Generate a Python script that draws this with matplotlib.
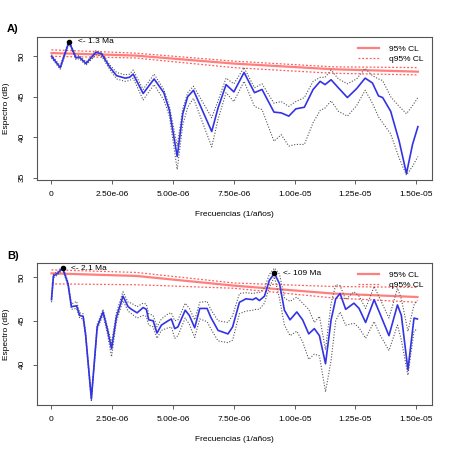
import numpy as np
import matplotlib
matplotlib.use("Agg")
import matplotlib.pyplot as plt

plt.rcParams['font.family'] = ['Liberation Sans', 'DejaVu Sans']

# ---------------- DATA (frequencies in units of 1e-6 1/años) ----------------
freq_a = [0.0, 0.36, 0.72, 1.01, 1.14, 1.42, 1.83, 2.06, 2.41, 2.68, 3.03, 3.21,
          3.36, 3.77, 4.22, 4.62, 4.85, 5.17, 5.4, 5.6, 5.84, 6.59, 6.85, 7.18,
          7.5, 7.92, 8.35, 8.66, 9.15, 9.45, 9.76, 10.05, 10.4, 10.76, 11.05,
          11.25, 11.5, 11.8, 12.17, 12.55, 12.9, 13.2, 13.45, 13.62, 13.95,
          14.3, 14.6, 14.85, 15.07]
spec_a = [50.0, 48.6, 51.8, 49.8, 49.9, 49.1, 50.5, 50.3, 48.6, 47.6, 47.3, 47.4,
          47.8, 45.4, 47.2, 45.5, 43.3, 37.6, 42.9, 45.0, 45.8, 40.7, 43.6, 46.5,
          45.6, 48.0, 45.5, 45.9, 43.1, 43.0, 42.6, 43.5, 43.7, 45.9, 46.9,
          46.5, 47.1, 46.1, 44.9, 46.0, 47.3, 46.7, 45.1, 44.9, 43.2,
          39.5, 35.5, 39.1, 41.3]
up_a = [50.2, 48.8, 52.0, 50.0, 50.1, 49.3, 50.7, 50.5, 48.9, 48.0, 47.7, 47.8,
        48.3, 45.9, 47.8, 45.9, 43.8, 38.9, 43.5, 45.5, 46.3, 42.4, 44.5, 47.3,
        46.6, 48.6, 46.1, 46.6, 44.2, 44.4, 43.8, 44.4, 44.9, 46.9, 47.4,
        47.4, 48.3, 47.2, 46.6, 47.2, 48.5, 47.6, 47.2, 47.0, 45.0,
        43.8, 42.9, 43.9, 44.9]
low_a = [49.8, 48.4, 51.6, 49.6, 49.7, 48.9, 50.2, 50.0, 48.3, 47.2, 46.9, 47.0,
         47.3, 44.6, 46.5, 44.6, 42.6, 36.0, 41.5, 43.7, 44.8, 38.8, 42.2, 45.5,
         44.4, 46.9, 43.8, 43.4, 39.5, 40.3, 38.9, 39.1, 39.1, 41.8, 43.3,
         43.6, 44.5, 43.2, 42.6, 43.9, 45.8, 44.2, 42.5, 41.8, 40.4,
         37.4, 35.3, 36.4, 37.6]
cl_freq_a = [0.0, 3.42, 7.5, 11.57, 15.07]
cl_a = [50.4, 50.1, 49.1, 48.4, 48.1]
q_up_a = [50.8, 50.4, 49.4, 48.7, 48.6]
q_low_a = [50.0, 49.8, 48.6, 47.9, 47.7]
peak_a = (0.72, 51.8, "<- 1.3 Ma")

freq_b = [0.0, 0.08, 0.25, 0.46, 0.68, 0.82, 1.03, 1.16, 1.3, 1.4, 1.64, 1.88,
          2.12, 2.3, 2.47, 2.67, 2.94, 3.15, 3.29, 3.52, 3.77, 3.9, 4.0, 4.18,
          4.34, 4.52, 4.8, 4.93, 5.07, 5.2, 5.5, 5.67, 5.89, 6.1, 6.4, 6.55,
          6.85, 7.26, 7.45, 7.73, 8.0, 8.28, 8.41, 8.55, 8.76, 8.96, 9.17,
          9.38, 9.58, 9.81, 10.09, 10.33, 10.58, 10.81, 11.02, 11.27, 11.5,
          11.69, 11.87, 12.1, 12.44, 12.65, 12.92, 13.27, 13.51, 13.88, 14.23,
          14.39, 14.66, 14.91, 15.05]
spec_b = [47.4, 50.1, 50.4, 51.0, 49.2, 46.6, 46.7, 45.6, 45.5, 43.5, 36.1, 44.3,
          46.0, 44.0, 41.8, 45.4, 47.8, 46.6, 46.3, 45.9, 46.5, 46.3, 45.1, 45.0,
          43.6, 44.5, 45.0, 45.2, 44.1, 44.3, 46.2, 45.6, 44.2, 46.4, 46.4, 45.4,
          43.9, 43.5, 44.3, 47.1, 47.5, 47.4, 47.6, 47.3, 47.8, 49.6, 50.4,
          49.2, 46.2, 45.1, 46.0, 45.1, 43.5, 44.1, 43.3, 40.1, 45.1,
          47.5, 48.1, 46.3, 47.0, 46.4, 44.8, 47.4, 45.8, 43.3, 46.8,
          45.6, 39.4, 45.3, 45.2]
up_b = [47.7, 50.3, 50.6, 51.2, 49.4, 46.9, 47.2, 45.9, 45.8, 43.8, 36.4, 44.6,
        46.3, 44.3, 42.5, 45.9, 48.3, 47.1, 47.0, 46.6, 47.0, 46.9, 45.8, 45.6,
        44.3, 45.2, 45.8, 45.9, 45.0, 45.1, 47.0, 46.4, 45.1, 47.1, 47.2, 46.3,
        45.0, 44.8, 45.6, 48.1, 48.2, 48.1, 48.2, 48.2, 48.7, 50.3, 51.0,
        50.3, 47.6, 47.2, 47.7, 47.0, 46.3, 44.8, 45.5, 41.7, 47.0,
        49.1, 49.0, 47.4, 48.3, 47.8, 46.4, 48.9, 47.5, 45.3, 48.7,
        47.5, 43.8, 46.8, 47.3]
low_b = [47.1, 49.9, 50.2, 50.8, 49.0, 46.3, 46.4, 45.3, 45.2, 43.2, 35.8, 44.0,
         45.7, 43.5, 40.9, 44.9, 47.3, 46.1, 45.8, 45.3, 45.6, 45.5, 44.5, 44.3,
         43.0, 43.9, 44.2, 44.3, 43.0, 43.3, 45.3, 44.6, 43.1, 45.2, 44.9, 44.1,
         42.7, 42.5, 42.8, 45.8, 46.1, 46.2, 46.3, 46.3, 47.0, 48.8, 50.0,
         47.5, 44.5, 43.3, 43.8, 42.6, 40.6, 41.2, 41.0, 36.9, 40.5,
         45.0, 46.0, 44.5, 44.7, 44.2, 43.0, 44.9, 43.4, 41.6, 44.5,
         42.8, 38.8, 43.8, 44.1]
cl_freq_b = [0.0, 3.5, 7.5, 11.57, 15.05]
cl_b = [50.4, 50.1, 49.0, 48.1, 47.7]
q_up_b = [50.8, 50.5, 49.3, 48.9, 48.8]
q_low_b = [49.2, 49.1, 48.7, 47.6, 47.1]
peak_b = [(0.46, 51.0, "<- 2.1 Ma"), (9.17, 50.4, "<- 109 Ma")]

xticks = [0, 2.5e-6, 5e-6, 7.5e-6, 1.0e-5, 1.25e-5, 1.5e-5]
xticklabels = ["0", "2.50e-06", "5.00e-06", "7.50e-06", "1.00e-05", "1.25e-05", "1.50e-05"]

FS = 6


def draw_panel(ax, f, s, up, low, clf, cl, qu, ql, peaks, ylim, yticks):
    f = np.array(f) * 1e-6
    clf = np.array(clf) * 1e-6
    ax.plot(clf, cl, color='#ff7f7f', lw=1.6, label='95% CL')
    ax.plot(clf, qu, color='#ff5c5c', lw=0.9, ls=(0, (1.5, 1.5)), label='q95% CL')
    ax.plot(clf, ql, color='#ff5c5c', lw=0.9, ls=(0, (1.5, 1.5)))
    ax.plot(f, up, color='#555555', lw=0.8, ls=(0, (1, 1.5)))
    ax.plot(f, low, color='#555555', lw=0.8, ls=(0, (1, 1.5)))
    ax.plot(f, s, color='#3333e6', lw=1.2)
    for px, py, txt in peaks:
        ax.plot(px * 1e-6, py, 'o', color='black', ms=3)
        ax.text(px * 1e-6 + 0.35e-6, py, txt, fontsize=FS, va='center', ha='left')
    ax.set_xlim(-0.6e-6, 15.65e-6)
    ax.set_ylim(*ylim)
    ax.set_xticks(xticks)
    ax.set_xticklabels(xticklabels, fontsize=FS)
    ax.set_yticks(yticks)
    ax.set_yticklabels([str(v) for v in yticks], fontsize=FS, rotation=90, va='center')
    ax.tick_params(length=3, width=0.6, color='#444444', pad=5)
    for sp in ax.spines.values():
        sp.set_color('#555555')
        sp.set_linewidth(0.8)
    ax.set_xlabel("Frecuencias (1/años)", fontsize=FS, labelpad=9)
    ax.set_ylabel("Espectro (dB)", fontsize=FS, labelpad=6)
    ax.legend(loc='upper right', frameon=False, fontsize=FS, handlelength=2.5,
              borderaxespad=0.6, labelspacing=0.3, handletextpad=1.2)


fig = plt.figure(figsize=(4.5, 4.5), dpi=100)
ax_a = fig.add_axes([0.082, 0.600, 0.878, 0.318])
ax_b = fig.add_axes([0.082, 0.100, 0.878, 0.316])

draw_panel(ax_a, freq_a, spec_a, up_a, low_a, cl_freq_a, cl_a, q_up_a, q_low_a,
           [peak_a], (34.7, 52.4), [35, 40, 45, 50])
draw_panel(ax_b, freq_b, spec_b, up_b, low_b, cl_freq_b, cl_b, q_up_b, q_low_b,
           peak_b, (35.4, 51.6), [40, 45, 50])

fig.text(0.015, 0.928, "A)", fontsize=8, fontweight='bold')
fig.text(0.015, 0.425, "B)", fontsize=8, fontweight='bold')

plt.savefig("out.png", dpi=100)
